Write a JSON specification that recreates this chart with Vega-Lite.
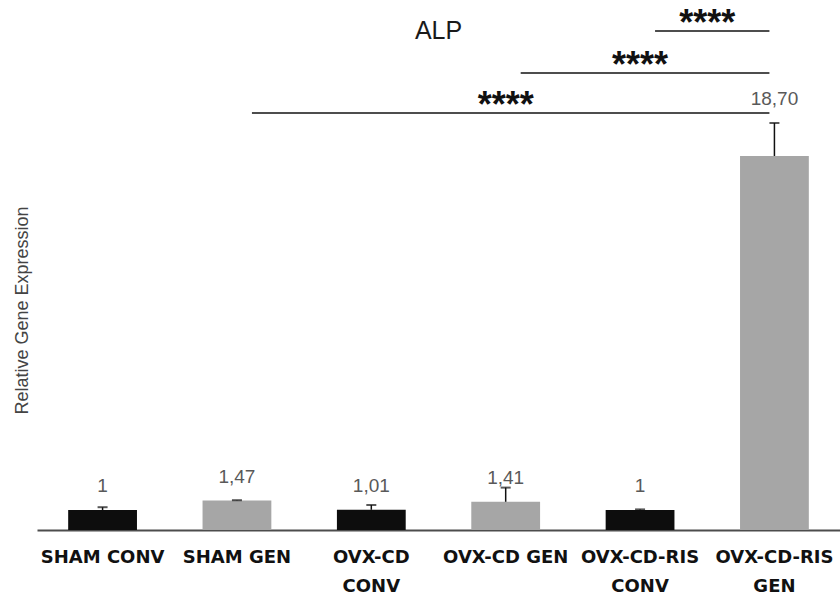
{
  "$schema": "https://vega.github.io/schema/vega-lite/v6.json",
  "width": 803,
  "height": 520,
  "autosize": {"type": "none"},
  "padding": {"left": 37, "top": 10, "right": 0, "bottom": 64},
  "background": "white",
  "title": {"text": "ALP", "font": "Liberation Sans", "fontSize": 25, "fontWeight": "normal", "color": "#1a1a1a", "anchor": "middle", "baseline": "middle", "dy": 54},
  "config": {"view": {"stroke": null}, "axis": {"grid": false}},
  "datasets": {
    "bars": [
      {"group": "SHAM CONV", "type": "CONV", "value": 1.0, "upper": 1.14, "label": "1"},
      {"group": "SHAM GEN", "type": "GEN", "value": 1.47, "upper": 1.49, "label": "1,47"},
      {"group": "OVX-CD CONV", "type": "CONV", "value": 1.01, "upper": 1.25, "label": "1,01"},
      {"group": "OVX-CD GEN", "type": "GEN", "value": 1.41, "upper": 2.12, "label": "1,41"},
      {"group": "OVX-CD-RIS CONV", "type": "CONV", "value": 1.0, "upper": 1.03, "label": "1"},
      {"group": "OVX-CD-RIS GEN", "type": "GEN", "value": 18.7, "upper": 20.35, "label": "18,70"}
    ],
    "brackets": [
      {"from": "SHAM GEN", "to": "OVX-CD-RIS GEN", "level": 20.85, "sig": "****"},
      {"from": "OVX-CD GEN", "to": "OVX-CD-RIS GEN", "level": 22.85, "sig": "****"},
      {"from": "OVX-CD-RIS CONV", "to": "OVX-CD-RIS GEN", "level": 24.95, "sig": "****"}
    ]
  },
  "layer": [
    {
      "data": {"name": "bars"},
      "mark": {"type": "bar"},
      "encoding": {
        "x": {
          "field": "group", "type": "nominal", "sort": null,
          "scale": {"domain": ["SHAM CONV", "SHAM GEN", "OVX-CD CONV", "OVX-CD GEN", "OVX-CD-RIS CONV", "OVX-CD-RIS GEN"], "paddingInner": 0.488, "paddingOuter": 0.232},
          "axis": {
            "title": null, "labelAngle": 0, "ticks": false, "domainColor": "#4d4d4d", "domainWidth": 2,
            "labelFont": "DejaVu Sans", "labelFontWeight": "bold", "labelFontSize": 18, "labelColor": "#111111",
            "labelPadding": 18, "labelLineHeight": 29, "labelBaseline": "top",
            "labelExpr": "datum.label == 'OVX-CD CONV' ? ['OVX-CD', 'CONV'] : datum.label == 'OVX-CD-RIS CONV' ? ['OVX-CD-RIS', 'CONV'] : datum.label == 'OVX-CD-RIS GEN' ? ['OVX-CD-RIS', 'GEN'] : datum.label"
          }
        },
        "y": {
          "field": "value", "type": "quantitative",
          "scale": {"domain": [0, 26], "nice": false},
          "axis": {
            "title": "Relative Gene Expression", "domain": false, "ticks": false, "labels": false, "grid": false,
            "titleFont": "Liberation Sans", "titleFontSize": 18, "titleFontWeight": "normal", "titleColor": "#444444",
            "titleX": -15, "titleY": 300, "titleAngle": -90, "titleAlign": "center", "titleBaseline": "middle"
          }
        },
        "color": {"field": "type", "type": "nominal", "scale": {"domain": ["CONV", "GEN"], "range": ["#0d0d0d", "#a6a6a6"]}, "legend": null}
      }
    },
    {
      "data": {"name": "bars"},
      "mark": {"type": "rule", "color": "#111111", "strokeWidth": 1.5},
      "encoding": {
        "x": {"field": "group", "type": "nominal", "sort": null},
        "y": {"field": "value", "type": "quantitative"},
        "y2": {"field": "upper"}
      }
    },
    {
      "data": {"name": "bars"},
      "mark": {"type": "tick", "color": "#111111", "size": 10, "thickness": 2},
      "encoding": {
        "x": {"field": "group", "type": "nominal", "sort": null},
        "y": {"field": "upper", "type": "quantitative"}
      }
    },
    {
      "data": {"name": "bars"},
      "mark": {"type": "text", "font": "Liberation Sans", "fontSize": 19, "color": "#595959", "baseline": "middle", "dy": {"expr": "datum.value > 10 ? -57 : -24"}},
      "encoding": {
        "x": {"field": "group", "type": "nominal", "sort": null},
        "y": {"field": "value", "type": "quantitative"},
        "text": {"field": "label"}
      }
    },
    {
      "data": {"name": "brackets"},
      "mark": {"type": "rule", "color": "#4d4d4d", "strokeWidth": 2, "xOffset": 15, "x2Offset": -5},
      "encoding": {
        "x": {"field": "from", "type": "nominal", "sort": null, "bandPosition": 0.5},
        "x2": {"field": "to", "bandPosition": 0.5},
        "y": {"field": "level", "type": "quantitative"}
      }
    },
    {
      "data": {"name": "brackets"},
      "mark": {"type": "text", "font": "Liberation Sans", "fontWeight": "bold", "fontSize": 36, "color": "#111111", "baseline": "alphabetic", "align": "center", "dy": 4,
        "xOffset": {"expr": "(scale('x', datum.to) - scale('x', datum.from)) / 2"}},
      "encoding": {
        "x": {"field": "from", "type": "nominal", "sort": null},
        "y": {"field": "level", "type": "quantitative"},
        "text": {"field": "sig"}
      }
    }
  ]
}
